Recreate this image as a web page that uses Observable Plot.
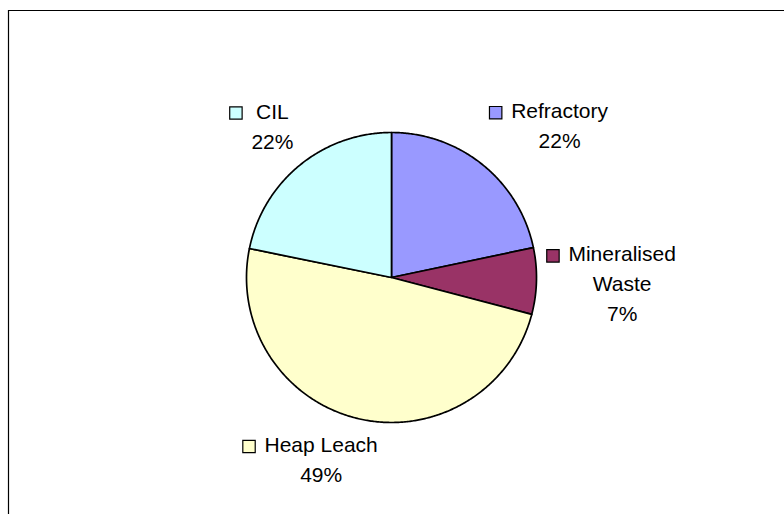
<!DOCTYPE html>
<html><head><meta charset="utf-8">
<script src="https://cdn.jsdelivr.net/npm/d3@7"></script>
<script src="https://cdn.jsdelivr.net/npm/@observablehq/plot@0.6"></script>
<style>html,body{margin:0;padding:0;background:#fff;overflow:hidden}#chart svg{display:block;overflow:hidden}</style>
</head><body><div id="chart"></div>
<script>
// ---- data ----
const categories = ["Refractory", "Mineralised Waste", "Heap Leach", "CIL"];
const values = [21.7, 7.4, 49.1, 21.8];
const colors = ["#9999FF", "#993366", "#FFFFCC", "#CCFFFF"];
const labelLines = [["Refractory"], ["Mineralised", "Waste"], ["Heap Leach"], ["CIL"]];

// ---- layout ----
const W = 784, H = 514;
const CX = 391, CY = 277, R = 145;
const FONT = 21, LH = 30, FAMILY = "'Liberation Sans', Arial, Helvetica, sans-serif";
const KEY = 22; // key column width
const BORDER_LEFT = 8, BORDER_TOP = 10;

const total = d3.sum(values);
const arcs = d3.pie().sort(null).value(d => d)(values);

// slice outlines in unit-circle coordinates
const slicePts = [];
arcs.forEach((a, i) => {
  const n = Math.max(2, Math.ceil((a.endAngle - a.startAngle) / (Math.PI / 360)));
  slicePts.push({cat: categories[i], x: 0, y: 0});
  for (let k = 0; k <= n; k++) {
    const t = a.startAngle + (a.endAngle - a.startAngle) * k / n;
    slicePts.push({cat: categories[i], x: Math.sin(t), y: Math.cos(t)});
  }
});

// label layout
const ctx = document.createElement("canvas").getContext("2d");
ctx.font = `${FONT}px ${FAMILY}`;
const toUx = X => (X - CX) / R, toUy = Y => (CY - Y) / R;
const textRows = [], keys = [];
arcs.forEach((a, i) => {
  const th = (a.startAngle + a.endAngle) / 2;
  const lines = [...labelLines[i], Math.round(values[i] / total * 100) + "%"];
  const tw = d3.max(lines, l => ctx.measureText(l).width);
  const w = tw + KEY, h = lines.length * LH - 8;
  const dx = Math.sin(th), dy = -Math.cos(th);
  const px = CX + (R + 10) * dx, py = CY + (R + 16) * dy;
  const fx = Math.sign(dx) * Math.min(1, 3 * Math.abs(dx));
  const fy = Math.sign(dy) * Math.min(1, 3 * Math.abs(dy));
  const bx = px + fx * w / 2, by = py + fy * h / 2;
  const n = lines.length;
  lines.forEach((l, j) => {
    const ly = by - (n - 1) * LH / 2 + j * LH;
    textRows.push({x: toUx(bx + KEY / 2), y: toUy(ly), text: l});
    if (j === 0) keys.push({cat: categories[i], x: toUx(bx - w / 2 + 6.5), y: toUy(ly + 1.2)});
  });
});

const chart = Plot.plot({
  width: W, height: H,
  marginTop: 0, marginLeft: 0, marginRight: 0, marginBottom: 0,
  style: {background: "#fff", overflow: "hidden"},
  x: {domain: [-1, 1], range: [CX - R, CX + R], axis: null},
  y: {domain: [-1, 1], range: [CY + R, CY - R], axis: null},
  color: {domain: categories, range: colors},
  marks: [
    Plot.ruleX([toUx(BORDER_LEFT)], {y1: toUy(BORDER_TOP), y2: toUy(H), stroke: "#000", strokeWidth: 1.2}),
    Plot.ruleY([toUy(BORDER_TOP)], {x1: toUx(BORDER_LEFT), x2: toUx(W), stroke: "#000", strokeWidth: 1.2}),
    Plot.line(slicePts, {x: "x", y: "y", z: "cat", fill: "cat", stroke: "#000",
      strokeWidth: 1.7, strokeLinejoin: "round", curve: "linear-closed"}),
    Plot.dot(keys, {x: "x", y: "y", fill: "cat", symbol: "square", r: 7,
      stroke: "#000", strokeWidth: 1.2}),
    Plot.text(textRows, {x: "x", y: "y", text: "text", fontSize: FONT, fontFamily: FAMILY,
      fill: "#000", textAnchor: "middle", lineAnchor: "middle"})
  ]
});
document.getElementById("chart").appendChild(chart);
</script>
</body></html>
